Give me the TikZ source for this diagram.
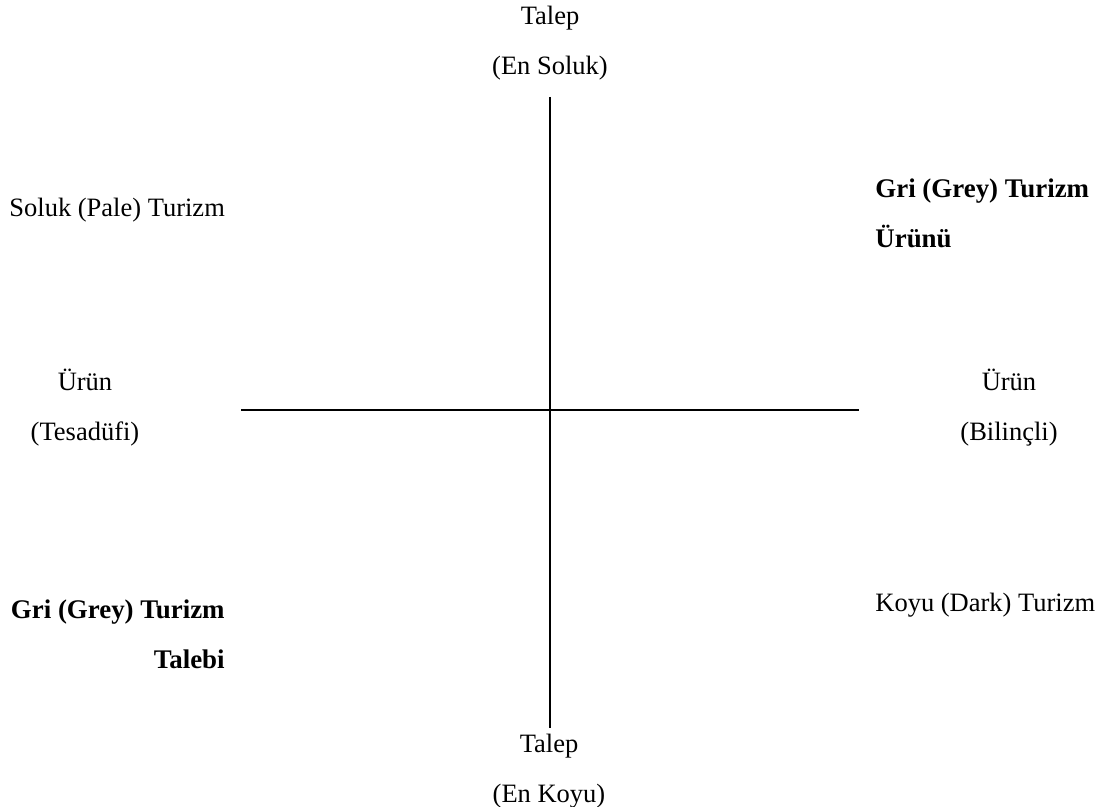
\documentclass[tikz,border=0pt]{standalone}
\usepackage{fontspec}
\setmainfont{Liberation Serif}
\usepackage{tikz}
\usetikzlibrary{positioning}
\tikzset{
  lbl/.style={inner sep=0pt,font=\fontsize{13.25}{25}\selectfont,align=center},
  blbl/.style={lbl,font=\fontsize{13.45}{25}\selectfont\bfseries},
  axis/.style={line width=1pt},
}

\begin{document}
\begin{tikzpicture}[x=0.5pt,y=-0.5pt]
  \useasboundingbox (0,0) rectangle (1105,807);
  % axes
  \coordinate (vtop) at (550,97);
  \coordinate (vbot) at (550,728);
  \coordinate (hleft) at (241,410);
  \coordinate (hright) at (859,410);
  \draw[axis] (vtop) -- (vbot);
  \draw[axis] (hleft) -- (hright);

  % axis ends
  \node[lbl] (demtop) at (550,43) {Talep\\(En Soluk)};
  \node[lbl] (dembot) at (549,771) {Talep\\(En Koyu)};
  \node[lbl] (prodl) at (85,408) {Ürün\\(Tesadüfi)};
  \node[lbl] (prodr) at (1009,408) {Ürün\\(Bilinçli)};

  % quadrants
  \node[lbl,anchor=west] (pale) at (9,210) {Soluk (Pale) Turizm};
  \node[blbl,anchor=west,align=left] (greyprod) at (875,213)
    {Gri (Grey) Turizm\\Ürünü};
  \node[blbl,anchor=east,align=right] (greydem) at (225,634)
    {Gri (Grey) Turizm\\Talebi};
  \node[lbl,anchor=west] (dark) at (875,605) {Koyu (Dark) Turizm};
\end{tikzpicture}
\end{document}
